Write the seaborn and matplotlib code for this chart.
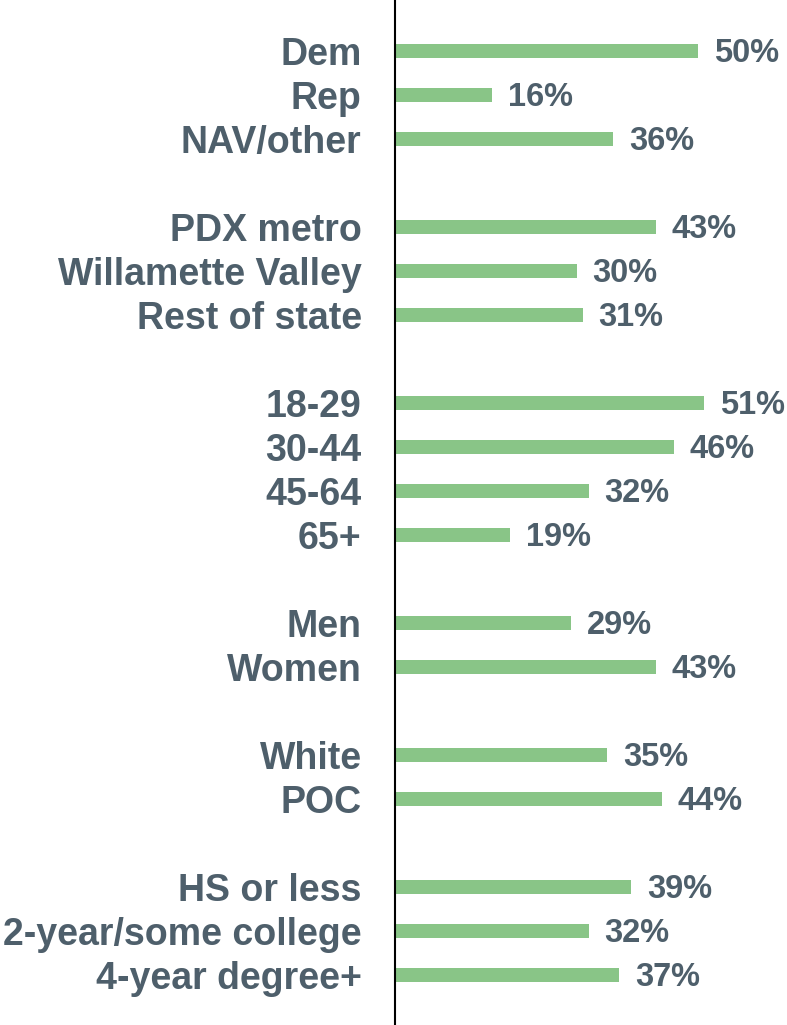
import matplotlib
matplotlib.use("Agg")
import matplotlib.pyplot as plt
import seaborn as sns
import pandas as pd

party = ["Dem", "Rep", "NAV/other"]
party_vals = [50, 16, 36]
region = ["PDX metro", "Willamette Valley", "Rest of state"]
region_vals = [43, 30, 31]
age = ["18-29", "30-44", "45-64", "65+"]
age_vals = [51, 46, 32, 19]
gender = ["Men", "Women"]
gender_vals = [29, 43]
race = ["White", "POC"]
race_vals = [35, 44]
edu = ["HS or less", "2-year/some college", "4-year degree+"]
edu_vals = [39, 32, 37]

groups = [(party, party_vals), (region, region_vals), (age, age_vals),
          (gender, gender_vals), (race, race_vals), (edu, edu_vals)]

labels, values, pos = [], [], []
p = 0
for cats, vals in groups:
    for c, v in zip(cats, vals):
        labels.append(c)
        values.append(v)
        pos.append(p)
        p += 1
    p += 1
df = pd.DataFrame({"label": labels, "value": values, "pos": pos})

sns.set_theme(style="white")
plt.rcParams["font.family"] = ["Liberation Sans", "DejaVu Sans"]

TEXT = "#4E5F6B"
BAR = "#89C587"

fig = plt.figure(figsize=(7.87, 10.25), dpi=100)
ax = fig.add_axes([395 / 787, 0, 1 - 395 / 787, 1])
sns.barplot(data=df, x="value", y="pos", orient="h", native_scale=True,
            color=BAR, width=0.34, saturation=1, ax=ax, edgecolor="none")

ax.set_xlim(0, (787 - 395) / 6.06)
ax.set_ylim(21 + 50 / 44, -51 / 44)
ax.set_yticks(df["pos"])
ax.set_yticklabels(df["label"], fontsize=27, fontweight="bold", color=TEXT)
ax.tick_params(axis="y", length=0, pad=24)
ax.set_xticks([])
ax.set_xlabel("")
ax.set_ylabel("")
for s in ["top", "right", "bottom"]:
    ax.spines[s].set_visible(False)
ax.spines["left"].set_color("black")
ax.spines["left"].set_linewidth(1.5)

for v, y in zip(df["value"], df["pos"]):
    ax.text(v + 2.6, y + 0.05, f"{v}%", va="center", ha="left", fontsize=23.5,
            fontweight="bold", color=TEXT)

fig.savefig("out.png", dpi=100)
